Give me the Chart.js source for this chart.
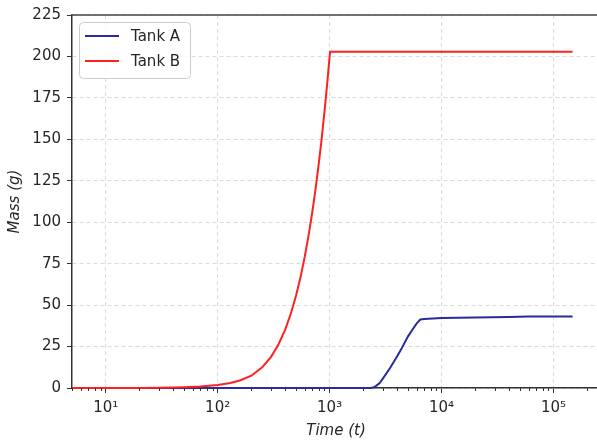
<!DOCTYPE html>
<html><head><meta charset="utf-8">
<script src="https://cdn.jsdelivr.net/npm/chart.js@4/dist/chart.umd.min.js"></script>
<style>
html,body{margin:0;padding:0;overflow:hidden;background:#fff;width:597px;height:441px}
#wrap{position:absolute;left:0;top:0;width:606px;height:441px}
</style>
</head><body><div id="wrap"><canvas id="c" width="606" height="441"></canvas></div>
<script>
const seriesNames = ['Tank A', 'Tank B'];
const tankATime = [5, 2300, 2450, 2600, 2800, 3040, 3500, 4000, 4330, 5000, 5500, 6000, 6460, 7000, 10000, 20000, 40000, 60000, 148000];
const tankAMass = [0, 0, 0.3, 1.3, 3, 6.4, 12.5, 19, 23, 31, 35.3, 39, 41.3, 41.6, 42.2, 42.6, 42.9, 43.1, 43.1];
const tankBTime = [5, 20, 30, 40, 50, 70, 100, 130, 160, 200, 250, 300, 350, 400, 450, 500, 550, 600, 650, 700, 750, 800, 850, 900, 950, 1000, 1010, 148000];
const tankBMass = [0, 0.05, 0.15, 0.27, 0.43, 0.86, 1.78, 3.05, 4.67, 7.4, 12.5, 18.8, 26.4, 35.1, 44.8, 55.5, 66.9, 79.3, 92.4, 106, 120.4, 135.3, 150.6, 166.8, 183.2, 200, 202.8, 202.8];
const xTickValues = [10, 100, 1000, 10000, 100000];
const xTickLabels = ['10¹', '10²', '10³', '10⁴', '10⁵'];
const yTickValues = [0, 25, 50, 75, 100, 125, 150, 175, 200, 225];
const xTitle = 'Time (t)';
const yTitle = 'Mass (g)';

const X_MIN = 5, X_MAX = 2.6e5;
const FONT = 'DejaVu Sans';
const TXT = '#262626';

function isPow10(v) { const l = Math.log10(v); return Math.abs(l - Math.round(l)) < 1e-9; }
function allLogTicks() {
  const out = [];
  for (let e = 0; e <= 5; e++) for (let m = 1; m <= 9; m++) {
    const v = m * Math.pow(10, e);
    if (v >= X_MIN && v <= X_MAX) out.push(v);
  }
  return out;
}

const extras = {
  id: 'extras',
  afterDraw(chart) {
    const ctx = chart.ctx, a = chart.chartArea, xs = chart.scales.x;
    ctx.save();
    // top spine
    ctx.strokeStyle = '#444'; ctx.lineWidth = 1.5;
    ctx.beginPath(); ctx.moveTo(a.left - 0.75, a.top); ctx.lineTo(a.right, a.top); ctx.stroke();
    // minor ticks
    ctx.strokeStyle = '#333'; ctx.lineWidth = 1;
    xs.ticks.forEach(t => {
      if (isPow10(t.value)) return;
      const px = Math.round(xs.getPixelForValue(t.value)) + 0.5;
      ctx.beginPath(); ctx.moveTo(px, a.bottom); ctx.lineTo(px, a.bottom + 3); ctx.stroke();
    });
    // legend
    const bx = 79.5, by = 22.5, bw = 111, bh = 56, r = 4;
    ctx.fillStyle = 'rgba(255,255,255,0.85)';
    ctx.strokeStyle = '#cccccc'; ctx.lineWidth = 1;
    ctx.beginPath();
    ctx.moveTo(bx + r, by); ctx.lineTo(bx + bw - r, by); ctx.quadraticCurveTo(bx + bw, by, bx + bw, by + r);
    ctx.lineTo(bx + bw, by + bh - r); ctx.quadraticCurveTo(bx + bw, by + bh, bx + bw - r, by + bh);
    ctx.lineTo(bx + r, by + bh); ctx.quadraticCurveTo(bx, by + bh, bx, by + bh - r);
    ctx.lineTo(bx, by + r); ctx.quadraticCurveTo(bx, by, bx + r, by);
    ctx.closePath(); ctx.fill(); ctx.stroke();
    ctx.font = '15px "' + FONT + '"'; ctx.textBaseline = 'middle'; ctx.textAlign = 'left';
    chart.data.datasets.forEach((ds, i) => {
      const y = 36 + i * 25;
      ctx.strokeStyle = ds.borderColor; ctx.lineWidth = 2;
      ctx.beginPath(); ctx.moveTo(85, y); ctx.lineTo(119, y); ctx.stroke();
      ctx.fillStyle = TXT; ctx.fillText(ds.label, 131, y + 1);
    });
    ctx.restore();
  }
};

new Chart(document.getElementById('c'), {
  type: 'line',
  data: {
    datasets: [
      { label: seriesNames[0], data: tankATime.map((t, i) => ({ x: t, y: tankAMass[i] })),
        borderColor: '#2a2a9c', borderWidth: 2, pointRadius: 0, tension: 0, order: 1, clip: false },
      { label: seriesNames[1], data: tankBTime.map((t, i) => ({ x: t, y: tankBMass[i] })),
        borderColor: '#ff2020', borderWidth: 2, pointRadius: 0, tension: 0, order: 0, clip: false }
    ]
  },
  options: {
    responsive: false, devicePixelRatio: 1, animation: false,
    layout: { padding: { left: 0, top: 14, right: 6, bottom: 0 } },
    plugins: { legend: { display: false }, tooltip: { enabled: false } },
    scales: {
      x: {
        type: 'logarithmic', min: X_MIN, max: X_MAX,
        afterBuildTicks: s => { s.ticks = allLogTicks().map(v => ({ value: v })); },
        afterFit: s => { s.height = 53; },
        ticks: {
          autoSkip: false, maxRotation: 0, minRotation: 0, padding: 6, color: TXT,
          font: { family: FONT, size: 15 },
          callback: v => { const i = xTickValues.indexOf(v); return i >= 0 ? xTickLabels[i] : ''; }
        },
        grid: {
          color: c => (c.tick && isPow10(c.tick.value)) ? 'rgba(0,0,0,0.14)' : 'rgba(0,0,0,0)',
          tickColor: c => (c.tick && isPow10(c.tick.value)) ? '#333' : 'rgba(0,0,0,0)',
          tickLength: 5, lineWidth: 1
        },
        border: { color: '#333', width: 1.5, dash: [4, 3] },
        title: { display: true, text: xTitle, color: TXT, padding: { top: 0, bottom: 1 },
          font: { family: FONT, size: 15, style: 'italic' } }
      },
      y: {
        type: 'linear', min: 0, max: 225,
        afterBuildTicks: s => { s.ticks = yTickValues.map(v => ({ value: v })); },
        afterFit: s => { s.width = 72; },
        ticks: { padding: 6, color: TXT, font: { family: FONT, size: 15 } },
        grid: { color: 'rgba(0,0,0,0.14)', tickColor: '#333', tickLength: 5, lineWidth: 1 },
        border: { color: '#333', width: 1.5, dash: [4, 3] },
        title: { display: true, text: yTitle, color: TXT, padding: { top: 6, bottom: 0 },
          font: { family: FONT, size: 15, style: 'italic' } }
      }
    }
  },
  plugins: [extras]
});
</script>
</body></html>
